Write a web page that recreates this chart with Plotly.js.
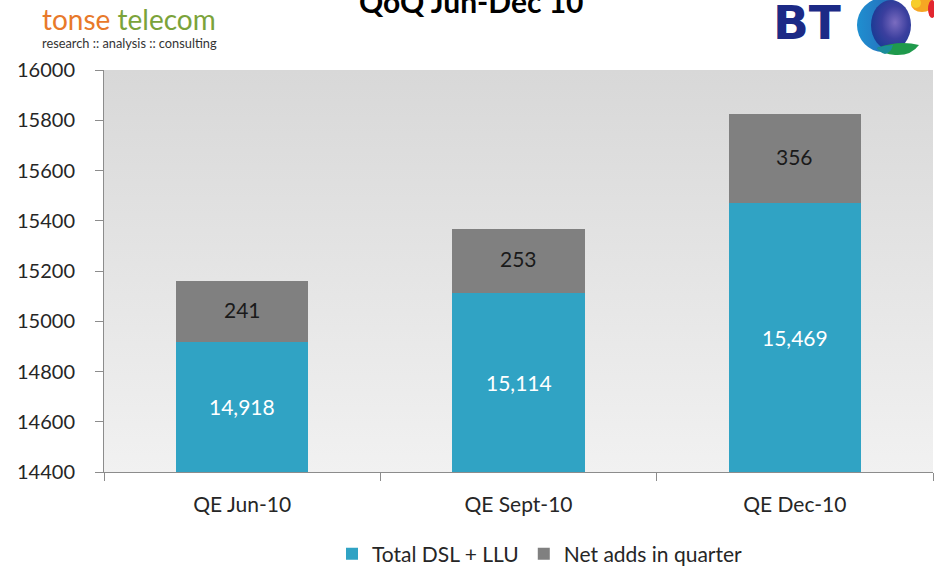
<!DOCTYPE html>
<html>
<head>
<meta charset="utf-8">
<script src="https://cdn.plot.ly/plotly-3.0.1.min.js"></script>
<style>html,body{margin:0;padding:0;background:#fff;}#chart{width:934px;height:566px;}</style>
</head>
<body>
<div id="chart"></div>
<script>
// ---- data ----
const categories = ["QE Jun-10", "QE Sept-10", "QE Dec-10"];
const totalDslLlu = [14918, 15114, 15469];
const netAdds = [241, 253, 356];
const seriesNames = ["Total DSL + LLU", "Net adds in quarter"];
const yTicks = [14400, 14600, 14800, 15000, 15200, 15400, 15600, 15800, 16000];
const chartTitle = "QoQ Jun-Dec 10";

// ---- layout constants ----
const W = 934, H = 566;
const M = {l: 104, r: 1, t: 70, b: 94, autoexpand: false};
const plotW = W - M.l - M.r, plotH = H - M.t - M.b;
const px2x = p => (p - M.l) / plotW;
const px2y = p => (H - M.b - p) / plotH;
const yMin = yTicks[0], yMax = yTicks[yTicks.length - 1];
const FONT = "Lato, 'Open Sans', sans-serif";

const fmt = v => v.toLocaleString("en-US");

const traces = [
  {type: "bar", name: seriesNames[0], x: categories, y: totalDslLlu,
   marker: {color: "#30a3c4", line: {width: 0}}, width: 0.48, hoverinfo: "x+y"},
  {type: "bar", name: seriesNames[1], x: categories, y: netAdds,
   marker: {color: "#808080", line: {width: 0}}, width: 0.48, hoverinfo: "x+y"}
];

const annotations = [];
categories.forEach((c, i) => {
  annotations.push({x: c, xref: "x", yref: "y", y: (yMin + totalDslLlu[i]) / 2,
    text: fmt(totalDslLlu[i]), showarrow: false,
    font: {family: FONT, size: 21, color: "#ffffff"}});
  annotations.push({x: c, xref: "x", yref: "y", y: totalDslLlu[i] + netAdds[i] / 2 + 10,
    text: fmt(netAdds[i]), showarrow: false,
    font: {family: FONT, size: 21, color: "#1a1a1a"}});
});
// title
annotations.push({xref: "paper", yref: "paper", x: px2x(471), y: px2y(1),
  xanchor: "center", yanchor: "middle", showarrow: false,
  text: "<b>" + chartTitle + "</b>", font: {family: FONT, size: 30, color: "#000"}});
// tonse telecom logo text
annotations.push({xref: "paper", yref: "paper", x: px2x(40), y: px2y(19),
  xanchor: "left", yanchor: "middle", showarrow: false,
  text: "<span style='color:#e8792a'>tonse</span> <span style='color:#7ba33a'>telecom</span>",
  font: {family: FONT, size: 28, color: "#e8792a"}});
annotations.push({xref: "paper", yref: "paper", x: px2x(40), y: px2y(43),
  xanchor: "left", yanchor: "middle", showarrow: false,
  text: "research :: analysis :: consulting",
  font: {family: FONT, size: 12.8, color: "#333"}});
// BT text
annotations.push({xref: "paper", yref: "paper", x: px2x(771), y: px2y(22),
  xanchor: "left", yanchor: "middle", showarrow: false,
  text: "<b>BT</b>", font: {family: "'DejaVu Sans', sans-serif", size: 47, color: "#1c2a86"}});

const bgSvg = "<svg xmlns='http://www.w3.org/2000/svg' width='100' height='100' preserveAspectRatio='none'>" +
  "<defs><linearGradient id='g' x1='0' y1='0' x2='0' y2='1'>" +
  "<stop offset='0' stop-color='#d8d8d8'/><stop offset='1' stop-color='#f1f1f1'/></linearGradient></defs>" +
  "<rect width='100' height='100' fill='url(#g)'/></svg>";

const globeSvg = "<svg xmlns='http://www.w3.org/2000/svg' width='80' height='58' viewBox='0 0 80 58'>" +
  "<defs><radialGradient id='b' cx='0.6' cy='0.45' r='0.6'>" +
  "<stop offset='0' stop-color='#7b6cc0'/><stop offset='0.55' stop-color='#3b3f9e'/><stop offset='1' stop-color='#1c3b95'/></radialGradient>" +
  "<linearGradient id='l' x1='0' y1='0' x2='1' y2='0'><stop offset='0' stop-color='#1f8fd0'/><stop offset='1' stop-color='#2a5db0'/></linearGradient></defs>" +
  "<ellipse cx='28' cy='25' rx='26' ry='27' fill='url(#l)'/>" +
  "<ellipse cx='36' cy='25' rx='20' ry='25' fill='url(#b)'/>" +
  "<path d='M22 48 Q44 40 64 45 Q56 56 40 55 Q28 54 22 48 Z' fill='#1f9a4c'/>" +
  "<path d='M22 48 Q30 45 38 45 Q36 53 30 54 Q24 52 22 48 Z' fill='#1b8d9a'/>" +
  "<ellipse cx='67' cy='4' rx='11' ry='8' fill='#f6a623'/>" +
  "<ellipse cx='61' cy='3' rx='5' ry='5' fill='#f7cd2a'/>" +
  "<ellipse cx='77' cy='9' rx='4' ry='9' fill='#e2262f'/>" +
  "</svg>";

const layout = {
  width: W, height: H,
  margin: M,
  barmode: "stack",
  paper_bgcolor: "#ffffff",
  plot_bgcolor: "rgba(0,0,0,0)",
  font: {family: FONT, size: 21, color: "#262626"},
  showlegend: true,
  legend: {orientation: "h", x: px2x(540), xanchor: "center", y: px2y(554), yanchor: "middle",
    font: {family: FONT, size: 21, color: "#262626"}, traceorder: "normal",
    itemwidth: 30, tracegroupgap: 0, bgcolor: "rgba(0,0,0,0)"},
  xaxis: {type: "category", showgrid: false, showline: true, linecolor: "#8c8c8c", linewidth: 1,
    ticks: "outside", ticklen: 8, tickcolor: "#8c8c8c", tickson: "boundaries",
    tickfont: {family: FONT, size: 21, color: "#262626"}, ticklabelstandoff: 14, fixedrange: true},
  yaxis: {range: [yMin, yMax], tickvals: yTicks, ticktext: yTicks.map(String), showgrid: false,
    zeroline: false, showline: true, linecolor: "#8c8c8c", linewidth: 1,
    ticks: "outside", ticklen: 8, tickcolor: "#8c8c8c",
    tickfont: {family: FONT, size: 20, color: "#262626"}, ticklabelstandoff: 16, fixedrange: true},
  annotations: annotations,
  images: [
    {source: "data:image/svg+xml;charset=utf-8," + encodeURIComponent(bgSvg),
     xref: "paper", yref: "paper", x: 0, y: 1, sizex: 1, sizey: 1,
     sizing: "stretch", layer: "below", xanchor: "left", yanchor: "top"},
    {source: "data:image/svg+xml;charset=utf-8," + encodeURIComponent(globeSvg),
     xref: "paper", yref: "paper", x: px2x(855), y: px2y(0), sizex: 80 / plotW, sizey: 58 / plotH,
     sizing: "stretch", layer: "above", xanchor: "left", yanchor: "top"}
  ]
};

Plotly.newPlot("chart", traces, layout, {displayModeBar: false, staticPlot: true});
</script>
</body>
</html>
